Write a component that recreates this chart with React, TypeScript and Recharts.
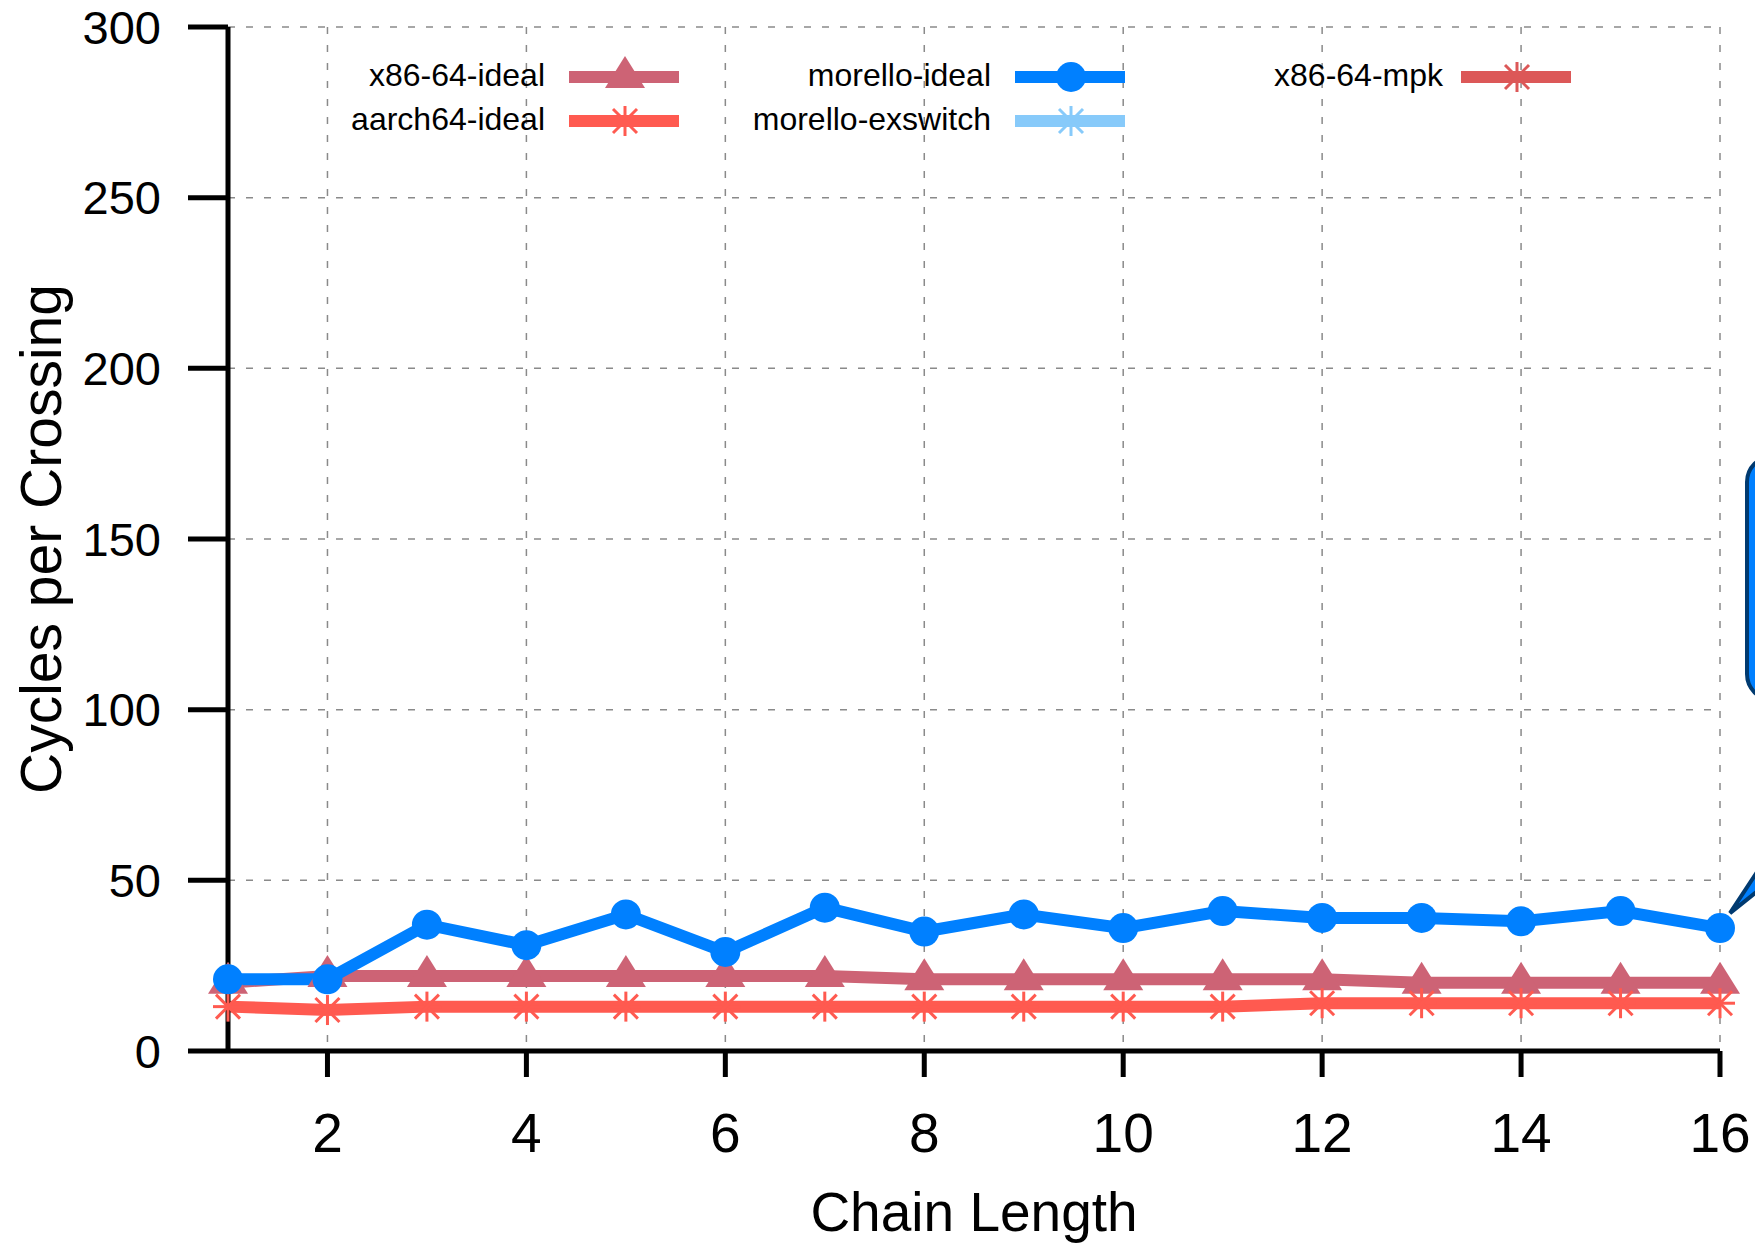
import React from 'react';
import { LineChart, Line, XAxis, YAxis, CartesianGrid, ReferenceDot } from 'recharts';

// chain length 1..16
const chainLength = [1, 2, 3, 4, 5, 6, 7, 8, 9, 10, 11, 12, 13, 14, 15, 16];
const x86Ideal = [20, 22, 22, 22, 22, 22, 22, 21, 21, 21, 21, 21, 20, 20, 20, 20];
const aarch64Ideal = [13, 12, 13, 13, 13, 13, 13, 13, 13, 13, 13, 14, 14, 14, 14, 14];
const morelloIdeal = [21, 21, 37, 31, 40, 29, 42, 35, 40, 36, 41, 39, 39, 38, 41, 36];

const xTicks = [2, 4, 6, 8, 10, 12, 14, 16];
const yTicks = [0, 50, 100, 150, 200, 250, 300];

const data = chainLength.map((n, i) => ({
  n,
  x86: x86Ideal[i],
  aarch64: aarch64Ideal[i],
  morello: morelloIdeal[i],
}));

const PINK = '#cd6375';
const RED = '#ff5a50';
const BLUE = '#0080ff';
const MPK = '#dc5858';
const EXSW = '#87cafa';
const NAVY = '#003a70';
const FONT = '"Liberation Sans", Arial, Helvetica, sans-serif';

const Triangle = ({ cx, cy, color }: any) => (
  <path d={`M${cx},${cy - 21} L${cx + 20},${cy + 11} L${cx - 20},${cy + 11} Z`} fill={color} />
);

const Star = ({ cx, cy, color }: any) => (
  <g stroke={color} strokeWidth={3}>
    <line x1={cx} y1={cy - 15} x2={cx} y2={cy + 15} />
    <line x1={cx - 15} y1={cy} x2={cx + 15} y2={cy} />
    <line x1={cx - 12} y1={cy - 12} x2={cx + 12} y2={cy + 12} />
    <line x1={cx - 12} y1={cy + 12} x2={cx + 12} y2={cy - 12} />
  </g>
);

const Dot = ({ cx, cy, color }: any) => <circle cx={cx} cy={cy} r={15} fill={color} />;

const legendItems = [
  { name: 'x86-64-ideal', color: PINK, mark: 'tri', col: 0, row: 0 },
  { name: 'morello-ideal', color: BLUE, mark: 'dot', col: 1, row: 0 },
  { name: 'x86-64-mpk', color: MPK, mark: 'star', col: 2, row: 0 },
  { name: 'aarch64-ideal', color: RED, mark: 'star', col: 0, row: 1 },
  { name: 'morello-exswitch', color: EXSW, mark: 'star', col: 1, row: 1 },
];

const KeyBox = () => (
  <svg width={1755} height={160} style={{ position: 'absolute', left: 0, top: 0, pointerEvents: 'none' }}>
    {legendItems.map((it) => {
      const x0 = 569 + it.col * 446;
      const ly = 77 + it.row * 44;
      const mx = x0 + 56;
      return (
        <g key={it.name}>
          <text x={x0 - (it.col === 2 ? 18 : 24)} y={ly + 9} textAnchor="end" fontSize={32} fontFamily={FONT} fill="#000">
            {it.name}
          </text>
          <line x1={x0} y1={ly} x2={x0 + 110} y2={ly} stroke={it.color} strokeWidth={12} />
          {it.mark === 'tri' && <Triangle cx={mx} cy={ly} color={it.color} />}
          {it.mark === 'dot' && <Dot cx={mx} cy={ly} color={it.color} />}
          {it.mark === 'star' && <Star cx={mx} cy={ly} color={it.color} />}
        </g>
      );
    })}
  </svg>
);

// speech-bubble annotation pointing at the last morello point
const Callout = ({ cx, cy }: any) => {
  const tx = cx + 10;
  const ty = cy - 15;
  return (
    <g>
      <path
        d={`M${tx},${ty} L${tx + 200},${ty - 304} L${tx + 200},${ty - 160} Z`}
        fill={BLUE}
        stroke={NAVY}
        strokeWidth={4}
        strokeLinejoin="miter"
      />
      <rect x={cx + 27} y={cy - 472} width={400} height={244} rx={26} fill={BLUE} stroke={NAVY} strokeWidth={4} />
    </g>
  );
};

const YTitle = () => (
  <text
    x={61}
    y={539}
    transform="rotate(-90 61 539)"
    textAnchor="middle"
    fontSize={57}
    fontFamily={FONT}
    fill="#000"
  >
    Cycles per Crossing
  </text>
);

const XTitle = ({ viewBox }: any) => (
  <text
    x={viewBox.x + viewBox.width / 2}
    y={1231}
    textAnchor="middle"
    fontSize={55}
    fontFamily={FONT}
    fill="#000"
  >
    Chain Length
  </text>
);

export default function App() {
  return (
    <div style={{ position: 'absolute', left: 0, top: 0, width: 1755, height: 1246, background: '#fff' }}>
      <LineChart width={1755} height={1246} data={data} margin={{ top: 27, right: 35, left: 0, bottom: 0 }}>
        <CartesianGrid strokeDasharray="7 11" stroke="#8a8a8a" strokeWidth={1.5} />
        <XAxis
          type="number"
          dataKey="n"
          domain={[1, 16]}
          ticks={xTicks}
          interval={0}
          height={195}
          tickSize={26}
          tickMargin={36}
          axisLine={{ stroke: '#000', strokeWidth: 5 }}
          tickLine={{ stroke: '#000', strokeWidth: 5 }}
          tick={{ fontSize: 55, fill: '#000', fontFamily: FONT }}
          label={<XTitle />}
        />
        <YAxis
          type="number"
          domain={[0, 300]}
          ticks={yTicks}
          interval={0}
          width={228}
          tickSize={40}
          tickMargin={27}
          axisLine={{ stroke: '#000', strokeWidth: 5 }}
          tickLine={{ stroke: '#000', strokeWidth: 5 }}
          tick={{ fontSize: 47, fill: '#000', fontFamily: FONT }}
          label={<YTitle />}
        />
        <Line
          dataKey="x86"
          stroke={PINK}
          strokeWidth={12}
          isAnimationActive={false}
          activeDot={false}
          dot={(p: any) => <Triangle key={`t${p.index}`} cx={p.cx} cy={p.cy} color={PINK} />}
        />
        <Line
          dataKey="aarch64"
          stroke={RED}
          strokeWidth={12}
          isAnimationActive={false}
          activeDot={false}
          dot={(p: any) => <Star key={`s${p.index}`} cx={p.cx} cy={p.cy} color={RED} />}
        />
        <Line
          dataKey="morello"
          stroke={BLUE}
          strokeWidth={12}
          isAnimationActive={false}
          activeDot={false}
          dot={(p: any) => <Dot key={`d${p.index}`} cx={p.cx} cy={p.cy} color={BLUE} />}
        />
        <ReferenceDot
          x={chainLength[chainLength.length - 1]}
          y={morelloIdeal[morelloIdeal.length - 1]}
          shape={(p: any) => <Callout cx={p.cx} cy={p.cy} />}
        />
      </LineChart>
      <KeyBox />
    </div>
  );
}
